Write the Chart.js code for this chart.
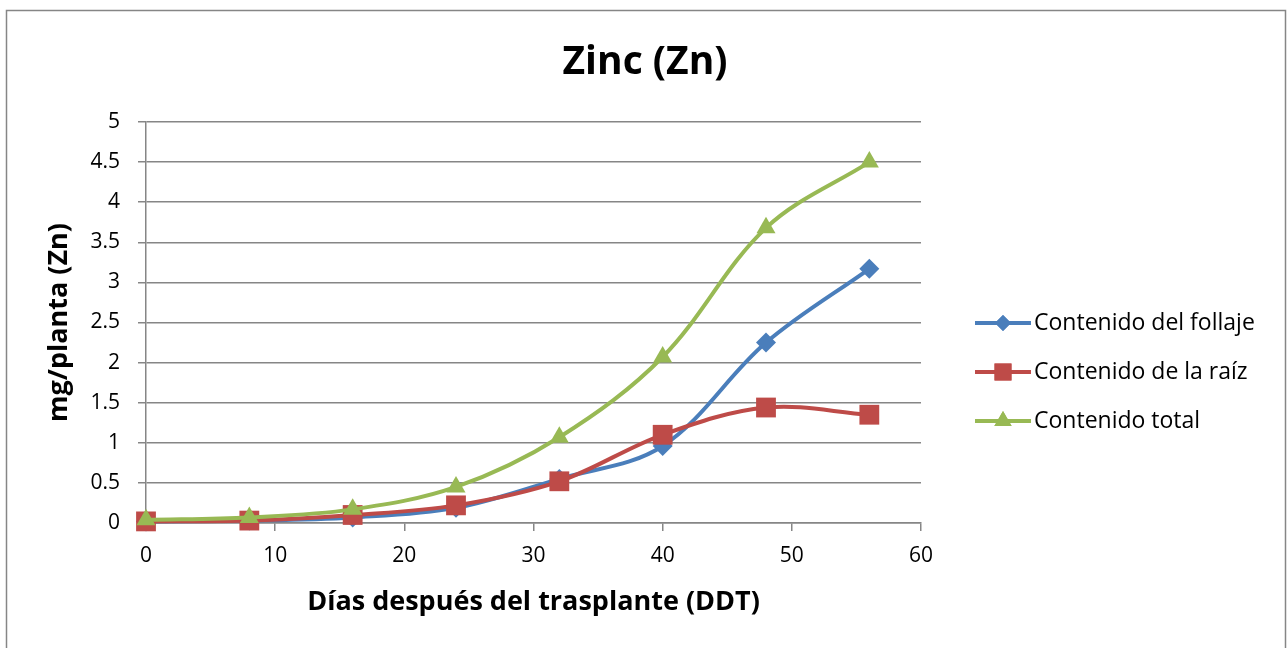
<!DOCTYPE html>
<html>
<head>
<meta charset="utf-8">
<script src="https://cdn.jsdelivr.net/npm/chart.js@4.4.1/dist/chart.umd.min.js"></script>
<style>
  html, body { margin: 0; padding: 0; background: #fff; }
  #wrap { width: 1288px; height: 648px; }
</style>
</head>
<body>
<div id="wrap"><canvas id="grafico" width="1288" height="648"></canvas></div>
<script>
// Días después del trasplante
const dias = [0, 8, 16, 24, 32, 40, 48, 56];
const follaje = [0.02, 0.03, 0.07, 0.19, 0.55, 0.96, 2.25, 3.17];
const raiz = [0.02, 0.03, 0.10, 0.22, 0.52, 1.10, 1.44, 1.35];
const total = [0.04, 0.07, 0.17, 0.45, 1.07, 2.07, 3.68, 4.50];

const nombres = ['Contenido del follaje', 'Contenido de la raíz', 'Contenido total'];
const colores = ['#4A7EBB', '#BE4B48', '#98B954'];
const marcas = ['rectRot', 'rect', 'triangle'];
const radios = [10, 14, 11];
const radiosLeyenda = [8, 12, 10];

const fuente = '"Open Sans", "Liberation Sans", sans-serif';
const gris = '#868686';

function puntos(valores) {
    return dias.map((d, i) => ({ x: d, y: valores[i] }));
}

// la serie total se dibuja encima, el follaje debajo
const series = [follaje, raiz, total].map((v, i) => ({
    label: nombres[i],
    data: puntos(v),
    order: 3 - i,
    clip: false,
    borderColor: colores[i],
    backgroundColor: colores[i],
    borderWidth: 4,
    pointStyle: marcas[i],
    pointRadius: radios[i],
    pointHoverRadius: radios[i],
    pointBorderWidth: 0,
    tension: 0.35,
    fill: false
}));

// marco exterior, título centrado y leyenda a la derecha
const extras = {
    id: 'extras',
    afterDraw(chart) {
        const ctx = chart.ctx;
        ctx.save();
        ctx.strokeStyle = gris;
        ctx.lineWidth = 1.5;
        ctx.strokeRect(6.5, 10.5, 1279, 660);

        ctx.fillStyle = '#000';
        ctx.font = 'bold 39px ' + fuente;
        ctx.textAlign = 'center';
        ctx.textBaseline = 'alphabetic';
        ctx.fillText('Zinc (Zn)', 645, 74);

        const filas = [323, 372, 421];
        chart.data.datasets.forEach((ds, i) => {
            const y = filas[i];
            ctx.strokeStyle = ds.borderColor;
            ctx.lineWidth = 4;
            ctx.beginPath();
            ctx.moveTo(975, y);
            ctx.lineTo(1031, y);
            ctx.stroke();
            ctx.fillStyle = ds.backgroundColor;
            Chart.helpers.drawPoint(ctx, {
                pointStyle: ds.pointStyle,
                radius: radiosLeyenda[i],
                rotation: 0,
                borderWidth: 0
            }, 1003, y);
            ctx.fill();
            ctx.fillStyle = '#000';
            ctx.font = '23px ' + fuente;
            ctx.textBaseline = 'middle';
            ctx.textAlign = 'left';
            ctx.fillText(ds.label, 1034, y);
        });
        ctx.restore();
    }
};

const ctx = document.getElementById('grafico').getContext('2d');
new Chart(ctx, {
    type: 'line',
    data: { datasets: series },
    plugins: [extras],
    options: {
        responsive: false,
        animation: false,
        layout: { padding: { left: 10, top: 122, right: 367, bottom: 10 } },
        plugins: {
            legend: { display: false },
            tooltip: { enabled: false },
            title: { display: false }
        },
        scales: {
            x: {
                type: 'linear',
                min: 0,
                max: 60,
                ticks: { stepSize: 10, color: '#000', padding: 12, font: { family: fuente, size: 21 } },
                grid: { display: true, drawOnChartArea: false, drawTicks: true, tickLength: 8, color: gris, lineWidth: 1.5 },
                border: { color: gris, width: 1.5 },
                title: {
                    display: true,
                    text: 'Días después del trasplante (DDT)',
                    color: '#000',
                    font: { family: fuente, size: 27, weight: 'bold' },
                    padding: { top: 0, bottom: 19 }
                },
                afterFit(scale) { scale.height = 115; }
            },
            y: {
                min: 0,
                max: 5,
                ticks: {
                    stepSize: 0.5, color: '#000', padding: 18, font: { family: fuente, size: 21 },
                    callback: (v) => String(v)
                },
                grid: { color: gris, lineWidth: 1.5, tickLength: 8 },
                border: { color: gris, width: 1.5 },
                title: {
                    display: true,
                    text: 'mg/planta (Zn)',
                    color: '#000',
                    font: { family: fuente, size: 27, weight: 'bold' },
                    padding: { top: 33, bottom: 0 }
                },
                afterFit(scale) { scale.width = 136; }
            }
        }
    }
});
</script>
</body>
</html>
